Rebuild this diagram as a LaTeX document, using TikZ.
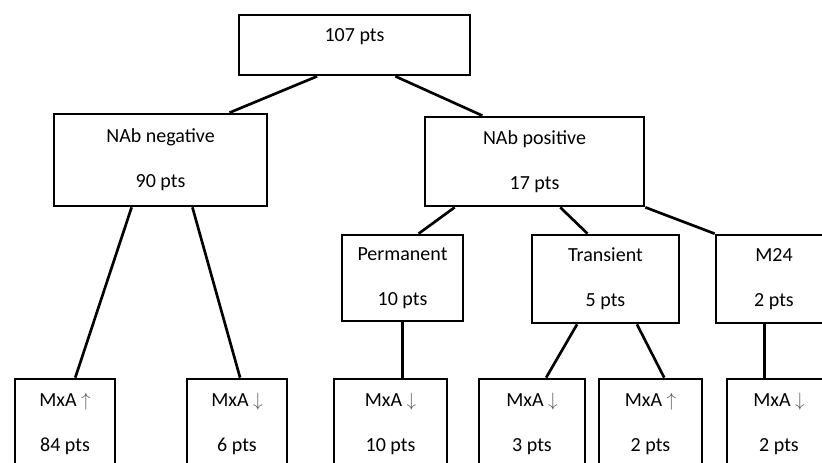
\documentclass[tikz,border=0pt]{standalone}
\usepackage{fontspec}
\setmainfont{Carlito}
\usetikzlibrary{calc}
\newcommand{\mxaup}{\textcolor{black!65}{$\uparrow$}}
\newcommand{\mxadown}{\textcolor{black!65}{$\downarrow$}}
\tikzset{
  box/.style={draw, rectangle, line width=2pt, inner sep=0pt, align=center,
    font=\fontsize{15}{33.75}\selectfont},
  leaf/.style={box, minimum height=67.5pt},
  link/.style={line width=2pt},
}

\begin{document}
\begin{tikzpicture}[x=0.75pt, y=-0.75pt]
  \useasboundingbox (0,0) rectangle (822,463);
  \clip (0,0) rectangle (822,463);
  % first split
  \node[box, minimum width=173.25pt, minimum height=45pt, text height=11pt, text depth=16pt] (all) at (354.5,45) {107 pts};
  \node[box, minimum width=159.75pt, minimum height=69pt] (neg) at (160.5,160) {NAb negative\\90 pts};
  \node[box, minimum width=164.25pt, minimum height=66.75pt] (pos) at (534.5,161.5) {NAb positive\\17 pts};

  % NAb positive subgroups
  \node[box, minimum width=90.75pt, minimum height=64.5pt] (perm) at (402.5,278) {Permanent\\10 pts};
  \node[box, minimum width=110.25pt, minimum height=66pt] (trans) at (605.5,279) {Transient\\5 pts};
  \node[box, minimum width=87pt, minimum height=66pt] (mtf) at (774,279) {M24\\2 pts};

  % MxA row
  \node[leaf, minimum width=75pt] (negup) at (65,424) {MxA \mxaup\\84 pts};
  \node[leaf, minimum width=75pt] (negdown) at (237,424) {MxA \mxadown\\6 pts};
  \node[leaf, minimum width=84.75pt] (permdown) at (390.5,424) {MxA \mxadown\\10 pts};
  \node[leaf, minimum width=79.5pt] (transdown) at (532,424) {MxA \mxadown\\3 pts};
  \node[leaf, minimum width=77.25pt] (transup) at (650.5,424) {MxA \mxaup\\2 pts};
  \node[leaf, minimum width=78pt] (mtfdown) at (779,424) {MxA \mxadown\\2 pts};

  \draw[link] ($(all.south west)!.34!(all.south east)$) -- ($(neg.north west)!.82!(neg.north east)$);
  \draw[link] ($(all.south west)!.675!(all.south east)$) -- ($(pos.north west)!.265!(pos.north east)$);

  \draw[link] ($(neg.south west)!.366!(neg.south east)$) -- ($(negup.north west)!.6!(negup.north east)$);
  \draw[link] ($(neg.south west)!.648!(neg.south east)$) -- ($(negdown.north west)!.53!(negdown.north east)$);

  \draw[link] ($(pos.south west)!.14!(pos.south east)$) -- ($(perm.north west)!.63!(perm.north east)$);
  \draw[link] ($(pos.south west)!.616!(pos.south east)$) -- ($(trans.north west)!.38!(trans.north east)$);
  \draw[link] (pos.south east) -- (mtf.north west);

  \draw[link] (perm.south) -- (perm.south |- permdown.north);
  \draw[link] ($(trans.south west)!.31!(trans.south east)$) -- ($(transdown.north west)!.63!(transdown.north east)$);
  \draw[link] ($(trans.south west)!.71!(trans.south east)$) -- ($(transup.north west)!.63!(transup.north east)$);
  \draw[link] ($(mtf.south west)!.42!(mtf.south east)$) coordinate (mtfbase) -- (mtfbase |- mtfdown.north);
\end{tikzpicture}
\end{document}
